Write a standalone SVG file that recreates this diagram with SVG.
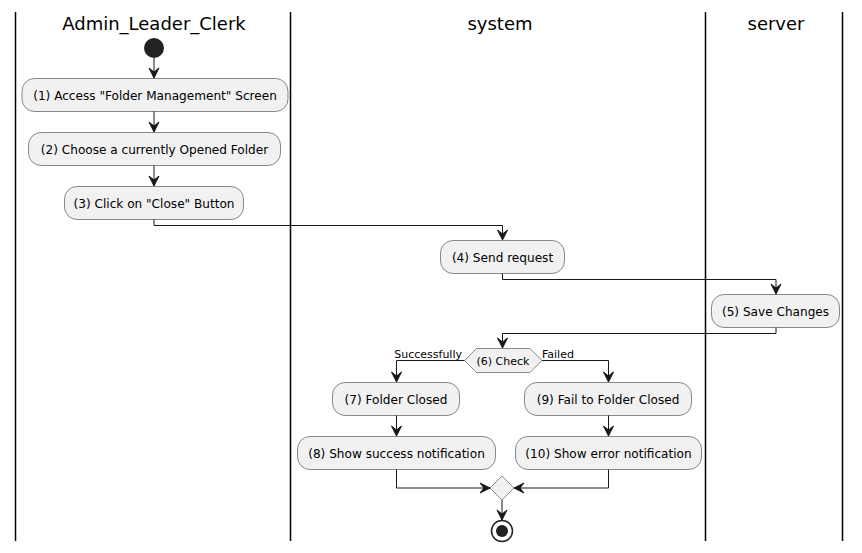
<svg xmlns="http://www.w3.org/2000/svg" width="862" height="553" viewBox="0 0 862 553">
  <style>
    .lane { stroke: #000; stroke-width: 1.5; }
    .title { font-family: "DejaVu Sans", sans-serif; font-size: 18px; fill: #000; text-anchor: middle; }
    .act rect { fill: #F1F1F1; stroke: #181818; stroke-width: 0.5; }
    .act text { font-family: "DejaVu Sans", sans-serif; font-size: 12.1px; fill: #000; text-anchor: middle; }
    .small { font-family: "DejaVu Sans", sans-serif; font-size: 11px; fill: #000; }
    .dec { fill: #F1F1F1; stroke: #181818; stroke-width: 0.5; }
    .edge { fill: none; stroke: #181818; stroke-width: 1; }
    .head { fill: #181818; stroke: #181818; stroke-width: 1; }
  </style>

  <!-- swimlanes -->
  <g id="lanes">
    <line class="lane" x1="15.5" y1="12" x2="15.5" y2="541"/>
    <line class="lane" x1="290.5" y1="12" x2="290.5" y2="541"/>
    <line class="lane" x1="705.5" y1="12" x2="705.5" y2="541"/>
    <line class="lane" x1="842.5" y1="12" x2="842.5" y2="541"/>
    <text class="title" x="154" y="30">Admin_Leader_Clerk</text>
    <text class="title" x="500" y="30">system</text>
    <text class="title" x="776" y="30">server</text>
  </g>

  <g id="start">
    <circle cx="154" cy="48" r="10" fill="#222222"/>
  </g>

  <g id="a1" class="act">
    <rect x="22" y="78.5" width="266" height="33" rx="12.5"/>
    <text x="155" y="99.5">(1) Access "Folder Management" Screen</text>
  </g>
  <g id="a2" class="act">
    <rect x="28.5" y="132.5" width="252" height="33" rx="12.5"/>
    <text x="154.5" y="153.5">(2) Choose a currently Opened Folder</text>
  </g>
  <g id="a3" class="act">
    <rect x="64.5" y="186.5" width="179" height="33" rx="12.5"/>
    <text x="154" y="207.5">(3) Click on "Close" Button</text>
  </g>
  <g id="a4" class="act">
    <rect x="440.5" y="240.5" width="124" height="33" rx="12.5"/>
    <text x="502.5" y="261.5">(4) Send request</text>
  </g>
  <g id="a5" class="act">
    <rect x="711.5" y="294.5" width="128" height="33" rx="12.5"/>
    <text x="775.5" y="315.5">(5) Save Changes</text>
  </g>

  <g id="check">
    <polygon class="dec" points="464.5,360.5 476.5,348.5 530,348.5 542,360.5 530,372.5 476.5,372.5"/>
    <text class="small" x="503" y="364.5" text-anchor="middle">(6) Check</text>
    <text class="small" x="462" y="357.5" text-anchor="end">Successfully</text>
    <text class="small" x="542" y="357.5">Failed</text>
  </g>

  <g id="a7" class="act">
    <rect x="332.5" y="382.5" width="127" height="33" rx="12.5"/>
    <text x="396" y="403.5">(7) Folder Closed</text>
  </g>
  <g id="a9" class="act">
    <rect x="524.5" y="382.5" width="167" height="33" rx="12.5"/>
    <text x="608" y="403.5">(9) Fail to Folder Closed</text>
  </g>
  <g id="a8" class="act">
    <rect x="297.5" y="436.5" width="198" height="33" rx="12.5"/>
    <text x="396.5" y="457.5">(8) Show success notification</text>
  </g>
  <g id="a10" class="act">
    <rect x="515.5" y="436.5" width="186" height="33" rx="12.5"/>
    <text x="608.5" y="457.5">(10) Show error notification</text>
  </g>

  <g id="merge">
    <polygon class="dec" points="502,476 514,488 502,500 490,488"/>
  </g>

  <g id="end">
    <circle cx="502" cy="531" r="10.5" fill="none" stroke="#222222" stroke-width="1.5"/>
    <circle cx="502" cy="531" r="6" fill="#222222"/>
  </g>

  <!-- connectors -->
  <g id="connectors">
    <path class="edge" d="M154,58 V78"/>
    <polygon class="head" points="149,68 154,78 159,68 154,72"/>
    <path class="edge" d="M154,111.5 V132"/>
    <polygon class="head" points="149,122 154,132 159,122 154,126"/>
    <path class="edge" d="M154,165.5 V186"/>
    <polygon class="head" points="149,176 154,186 159,176 154,180"/>

    <path class="edge" d="M154,219.5 V225.5 H502.5 V240"/>
    <polygon class="head" points="497.5,230 502.5,240 507.5,230 502.5,234"/>

    <path class="edge" d="M502.5,273.5 V279.5 H776 V294"/>
    <polygon class="head" points="771,284 776,294 781,284 776,288"/>

    <path class="edge" d="M776,327.5 V333.5 H502.5 V348"/>
    <polygon class="head" points="497.5,338 502.5,348 507.5,338 502.5,342"/>

    <path class="edge" d="M464.5,360.5 H396.5 V382"/>
    <polygon class="head" points="391.5,372 396.5,382 401.5,372 396.5,376"/>
    <path class="edge" d="M542,360.5 H608.5 V382"/>
    <polygon class="head" points="603.5,372 608.5,382 613.5,372 608.5,376"/>

    <path class="edge" d="M396.5,415.5 V436"/>
    <polygon class="head" points="391.5,426 396.5,436 401.5,426 396.5,430"/>
    <path class="edge" d="M608.5,415.5 V436"/>
    <polygon class="head" points="603.5,426 608.5,436 613.5,426 608.5,430"/>

    <path class="edge" d="M396.5,469.5 V488 H490"/>
    <polygon class="head" points="480,483 490,488 480,493 484,488"/>
    <path class="edge" d="M608.5,469.5 V488 H514"/>
    <polygon class="head" points="524,483 514,488 524,493 520,488"/>

    <path class="edge" d="M502,500 V520"/>
    <polygon class="head" points="497,510 502,520 507,510 502,514"/>
  </g>
</svg>
